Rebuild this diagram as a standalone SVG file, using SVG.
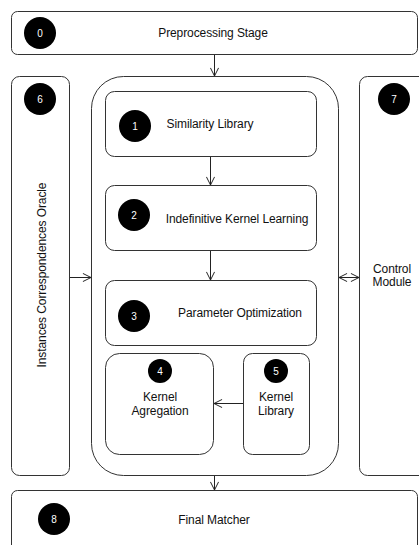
<svg xmlns="http://www.w3.org/2000/svg" width="419" height="545" viewBox="0 0 419 545">
<defs>
<style>
.box{fill:#fff;stroke:#333;stroke-width:1}
.dot{fill:#000}
.num{fill:#fff;font-family:"Liberation Sans",Arial,sans-serif;font-size:10px;text-anchor:middle;dominant-baseline:central}
.lbl{fill:#111;font-family:"Liberation Sans",Arial,sans-serif;font-size:12px;text-anchor:middle;dominant-baseline:central;letter-spacing:-0.1px}
.con{fill:none;stroke:#222;stroke-width:1}
</style>
<marker id="ah" viewBox="0 0 10 10" refX="10" refY="5" markerWidth="9" markerHeight="9" orient="auto-start-reverse" markerUnits="userSpaceOnUse">
<path d="M1,0.5 L10,5 L1,9.5" fill="none" stroke="#222" stroke-width="1.1"/>
</marker>
</defs>
<rect width="419" height="545" fill="#fff"/>
<g id="n0">
<rect class="box" x="11.5" y="11.5" width="406" height="43" rx="6"/>
<circle class="dot" cx="40" cy="33" r="16"/>
<text class="num" x="40" y="33">0</text>
<text class="lbl" x="213" y="33">Preprocessing Stage</text>
</g>
<g id="n6">
<rect class="box" x="11.5" y="76.5" width="58" height="399" rx="8"/>
<circle class="dot" cx="40" cy="99" r="16"/>
<text class="num" x="40" y="99">6</text>
<text class="lbl" transform="translate(42,275) rotate(-90)" x="0" y="0">Instances Correspondences Oracle</text>
</g>
<g id="container">
<rect class="box" x="91.5" y="76.5" width="247" height="399" rx="32"/>
</g>
<g id="n7">
<rect class="box" x="359.5" y="76.5" width="70" height="399" rx="8"/>
<circle class="dot" cx="394" cy="99" r="16"/>
<text class="num" x="394" y="99">7</text>
<text class="lbl" x="392" y="269">Control</text>
<text class="lbl" x="392" y="282">Module</text>
</g>
<g id="n1">
<rect class="box" x="105.5" y="91.5" width="211" height="65" rx="9"/>
<circle class="dot" cx="135" cy="126" r="16"/>
<text class="num" x="135" y="126">1</text>
<text class="lbl" x="210" y="124">Similarity Library</text>
</g>
<g id="n2">
<rect class="box" x="105.5" y="185.5" width="211" height="65" rx="9"/>
<circle class="dot" cx="134" cy="215" r="16"/>
<text class="num" x="134" y="215">2</text>
<text class="lbl" x="237" y="219">Indefinitive Kernel Learning</text>
</g>
<g id="n3">
<rect class="box" x="105.5" y="280.5" width="211" height="65" rx="9"/>
<circle class="dot" cx="134" cy="316" r="16"/>
<text class="num" x="134" y="316">3</text>
<text class="lbl" x="240" y="313">Parameter Optimization</text>
</g>
<g id="n4">
<rect class="box" x="105.5" y="353.5" width="108" height="101" rx="14"/>
<circle class="dot" cx="160" cy="371" r="12"/>
<text class="num" x="160" y="371">4</text>
<text class="lbl" x="160" y="397">Kernel</text>
<text class="lbl" x="160" y="411">Agregation</text>
</g>
<g id="n5">
<rect class="box" x="243.5" y="353.5" width="66" height="101" rx="9"/>
<circle class="dot" cx="276" cy="371" r="12"/>
<text class="num" x="276" y="371">5</text>
<text class="lbl" x="276" y="397">Kernel</text>
<text class="lbl" x="276" y="411">Library</text>
</g>
<g id="n8">
<rect class="box" x="11.5" y="490.5" width="406" height="70" rx="6"/>
<circle class="dot" cx="54" cy="519" r="16"/>
<text class="num" x="54" y="519">8</text>
<text class="lbl" x="214" y="520">Final Matcher</text>
</g>
<g id="connectors">
<line class="con" x1="214.5" y1="55" x2="214.5" y2="76" marker-end="url(#ah)"/>
<line class="con" x1="210.5" y1="157" x2="210.5" y2="185" marker-end="url(#ah)"/>
<line class="con" x1="210.5" y1="251" x2="210.5" y2="280" marker-end="url(#ah)"/>
<line class="con" x1="243" y1="403.5" x2="214" y2="403.5" marker-end="url(#ah)"/>
<line class="con" x1="70" y1="277.5" x2="91" y2="277.5" marker-end="url(#ah)"/>
<line class="con" x1="339" y1="277.5" x2="359" y2="277.5" marker-start="url(#ah)" marker-end="url(#ah)"/>
<line class="con" x1="214.5" y1="476" x2="214.5" y2="490" marker-end="url(#ah)"/>
</g>
</svg>
